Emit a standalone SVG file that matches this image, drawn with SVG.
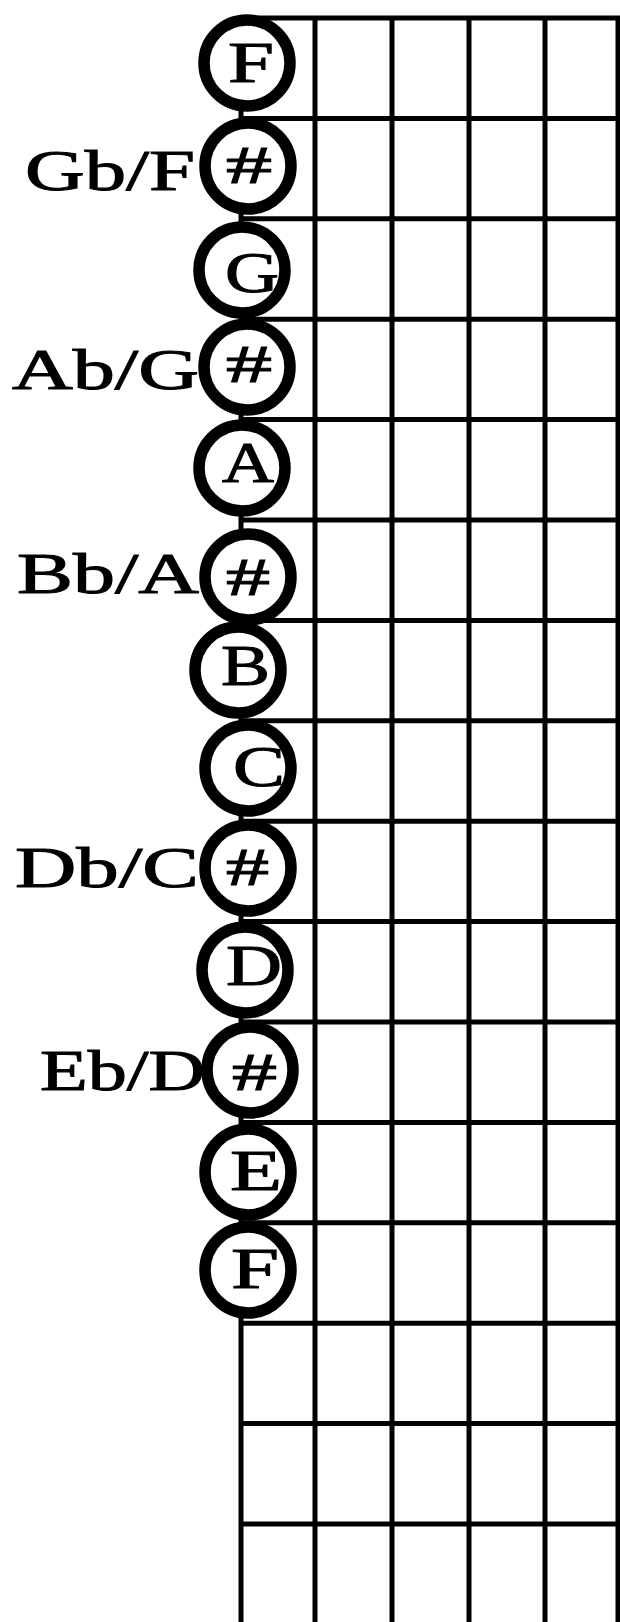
<svg xmlns="http://www.w3.org/2000/svg" width="620" height="1622" viewBox="0 0 620 1622">
<style>
.g line{stroke:#000;stroke-width:5}
.n circle{fill:#fff;stroke:#000;stroke-width:11.5}
.n text,.lbl{font-family:"Liberation Serif","Times New Roman",serif;font-size:56px;fill:#000;stroke:#000;stroke-width:1}
.n text.s{font-size:52px}
</style>
<rect width="620" height="1622" fill="#fff"/>
<g id="grid" class="g">
<line x1="241" y1="18" x2="241" y2="1622"/>
<line x1="315" y1="16" x2="315" y2="1622"/>
<line x1="392" y1="16" x2="392" y2="1622"/>
<line x1="469" y1="16" x2="469" y2="1622"/>
<line x1="545" y1="16" x2="545" y2="1622"/>
<line x1="618" y1="16" x2="618" y2="1622"/>
<line x1="241" y1="18" x2="620" y2="18"/>
<line x1="241" y1="118.4" x2="620" y2="118.4"/>
<line x1="241" y1="218.8" x2="620" y2="218.8"/>
<line x1="241" y1="319.2" x2="620" y2="319.2"/>
<line x1="241" y1="419.6" x2="620" y2="419.6"/>
<line x1="241" y1="520" x2="620" y2="520"/>
<line x1="241" y1="620.4" x2="620" y2="620.4"/>
<line x1="241" y1="720.8" x2="620" y2="720.8"/>
<line x1="241" y1="821.2" x2="620" y2="821.2"/>
<line x1="241" y1="921.6" x2="620" y2="921.6"/>
<line x1="241" y1="1022" x2="620" y2="1022"/>
<line x1="241" y1="1122.4" x2="620" y2="1122.4"/>
<line x1="241" y1="1222.8" x2="620" y2="1222.8"/>
<line x1="241" y1="1323.2" x2="620" y2="1323.2"/>
<line x1="241" y1="1423.6" x2="620" y2="1423.6"/>
<line x1="241" y1="1524" x2="620" y2="1524"/>
</g>
<g id="n-F1" class="n"><circle cx="247" cy="63" r="43"/><text x="228" y="82" textLength="46" lengthAdjust="spacingAndGlyphs">F</text></g>
<g id="n-Fs" class="n"><circle cx="248" cy="166" r="43"/><text class="s" x="226" y="183" textLength="46" lengthAdjust="spacingAndGlyphs">#</text></g>
<g id="n-G" class="n"><circle cx="242" cy="270" r="43"/><text x="225" y="292" textLength="54" lengthAdjust="spacingAndGlyphs">G</text></g>
<g id="n-Gs" class="n"><circle cx="247" cy="367" r="43"/><text class="s" x="226" y="382" textLength="46" lengthAdjust="spacingAndGlyphs">#</text></g>
<g id="n-A" class="n"><circle cx="242" cy="468" r="43"/><text x="222" y="482" textLength="52" lengthAdjust="spacingAndGlyphs">A</text></g>
<g id="n-As" class="n"><circle cx="248" cy="577" r="43"/><text class="s" x="226" y="595" textLength="44" lengthAdjust="spacingAndGlyphs">#</text></g>
<g id="n-B" class="n"><circle cx="238" cy="670" r="43"/><text x="221" y="685" textLength="49" lengthAdjust="spacingAndGlyphs">B</text></g>
<g id="n-C" class="n"><circle cx="248" cy="768" r="43"/><text x="233" y="786" textLength="52" lengthAdjust="spacingAndGlyphs">C</text></g>
<g id="n-Cs" class="n"><circle cx="248" cy="868" r="43"/><text class="s" x="226" y="885" textLength="43" lengthAdjust="spacingAndGlyphs">#</text></g>
<g id="n-D" class="n"><circle cx="245" cy="970" r="43"/><text x="226" y="985" textLength="56" lengthAdjust="spacingAndGlyphs">D</text></g>
<g id="n-Ds" class="n"><circle cx="250" cy="1070" r="43"/><text class="s" x="232" y="1090" textLength="45" lengthAdjust="spacingAndGlyphs">#</text></g>
<g id="n-E" class="n"><circle cx="248" cy="1172" r="43"/><text x="230" y="1190" textLength="52" lengthAdjust="spacingAndGlyphs">E</text></g>
<g id="n-F2" class="n"><circle cx="248" cy="1270" r="43"/><text x="231" y="1288" textLength="48" lengthAdjust="spacingAndGlyphs">F</text></g>
<g id="labels">
<text class="lbl" x="25" y="190" textLength="170" lengthAdjust="spacingAndGlyphs">Gb/F</text>
<text class="lbl" x="12" y="389" textLength="187" lengthAdjust="spacingAndGlyphs">Ab/G</text>
<text class="lbl" x="17" y="593" textLength="182" lengthAdjust="spacingAndGlyphs">Bb/A</text>
<text class="lbl" x="15" y="887" textLength="184" lengthAdjust="spacingAndGlyphs">Db/C</text>
<text class="lbl" x="40" y="1090" textLength="165" lengthAdjust="spacingAndGlyphs">Eb/D</text>
</g>
</svg>
